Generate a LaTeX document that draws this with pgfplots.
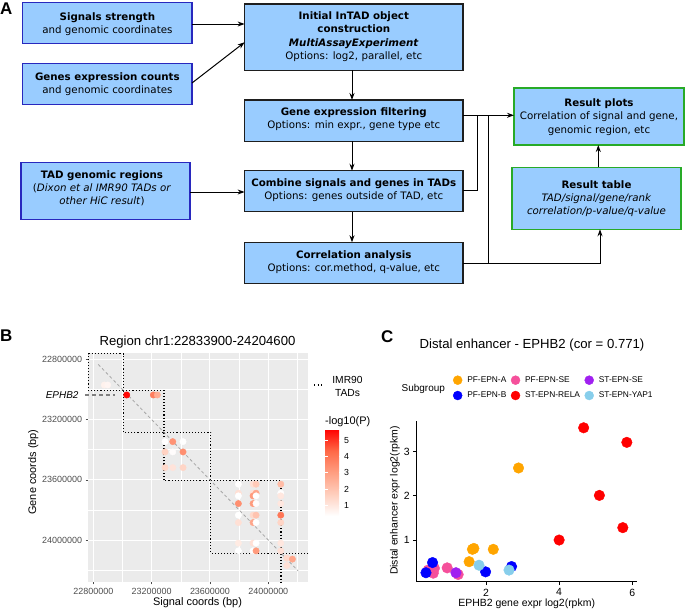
\documentclass[border=0pt]{standalone}
\usepackage{pgfplots}
\pgfplotsset{compat=1.18}
\usepackage{fontspec}
\setmainfont{Liberation Sans}
\newfontfamily\dejavu{DejaVu Sans}
\usetikzlibrary{arrows.meta}
\definecolor{boxfill}{RGB}{153,204,255}
\definecolor{boxblue}{RGB}{40,40,190}
\definecolor{boxgreen}{RGB}{40,170,40}
\definecolor{boxdark}{RGB}{30,30,30}
\definecolor{panelgray}{RGB}{235,235,235}
\definecolor{ticklab}{RGB}{77,77,77}
\definecolor{cOrange}{RGB}{255,165,0}
\definecolor{cPink}{RGB}{245,80,155}
\definecolor{cPurple}{RGB}{160,32,240}
\definecolor{cBlue}{RGB}{0,0,255}
\definecolor{cRed}{RGB}{255,0,0}
\definecolor{cSky}{RGB}{135,206,235}
\begin{document}
\begin{tikzpicture}
\useasboundingbox (0bp,0bp) rectangle (685bp,-611bp);
\begin{scope}[x=1bp,y=-1bp,font=\dejavu\fontsize{10.3}{13.3}\selectfont]
\tikzset{bx/.style={fill=boxfill, line width=1.3bp},
 ar/.style={-{Stealth[length=7bp,width=5bp]}, line width=1bp},
 ln/.style={line width=1bp}}
\node[font=\bfseries\fontsize{17}{17}\selectfont, anchor=base west, inner sep=0] at (0,14) {A};
\draw[bx,draw=boxblue] (22.7,2.7) rectangle (192,43.7);
\node[align=center] at (107.4,24) {\textbf{Signals strength}\\and genomic coordinates};
\draw[bx,draw=boxblue] (22.7,63.3) rectangle (192,104.7);
\node[align=center] at (107.4,84.5) {\textbf{Genes expression counts}\\and genomic coordinates};
\draw[bx,draw=boxdark] (244.6,4) rectangle (463,70.3);
\node[align=center] at (353.8,36.7) {\textbf{Initial InTAD object}\\\textbf{construction}\\\textbf{\textit{MultiAssayExperiment}}\\Options: log2, parallel, etc};
\draw[bx,draw=boxdark] (244.6,100) rectangle (463,141.3);
\node[align=center] at (353.8,119.5) {\textbf{Gene expression filtering}\\Options: min expr., gene type etc};
\draw[bx,draw=boxgreen] (514,88) rectangle (684,145);
\node[align=center] at (599,117) {\textbf{Result plots}\\Correlation of signal and gene,\\genomic region, etc};
\draw[bx,draw=boxblue] (21,162.7) rectangle (190,219.3);
\node[align=center] at (102,188.5) {\textbf{TAD genomic regions}\\(\textit{Dixon et al IMR90 TADs or}\\\textit{other HiC result})};
\draw[bx,draw=boxdark] (244.6,170.7) rectangle (463,211.7);
\node[align=center] at (353.8,190.5) {\textbf{Combine signals and genes in TADs}\\Options: genes outside of TAD, etc};
\draw[bx,draw=boxgreen] (512,167.3) rectangle (681,229.3);
\node[align=center] at (596.5,198.5) {\textbf{Result table}\\\textit{TAD/signal/gene/rank}\\\textit{correlation/p-value/q-value}};
\draw[bx,draw=boxdark] (244.6,242.3) rectangle (463,283.7);
\node[align=center] at (353.8,262) {\textbf{Correlation analysis}\\Options: cor.method, q-value, etc};
\draw[ar] (192,24) -- (244.6,24);
\draw[ar] (192,83) -- (244.6,42.3);
\draw[ar] (352,70.3) -- (352,100);
\draw[ar] (352,141.3) -- (352,170.7);
\draw[ar] (352,211.7) -- (352,242.3);
\draw[ar] (190,192) -- (244.6,192);
\draw[ar] (463,115.3) -- (514,115.3);
\draw[ln] (463,190) -- (477.3,190) -- (477.3,115.3);
\draw[ln] (488.5,263.3) -- (488.5,115.3);
\draw[ar] (463,263.3) -- (600,263.3) -- (600,229.3);
\draw[ar] (598.3,167.3) -- (598.3,145);
% panel B texts
\node[font=\bfseries\fontsize{17}{17}\selectfont, anchor=base west, inner sep=0] at (0,341.7) {B};
\node[font=\fontsize{13.2}{15}\selectfont] at (197.5,341.7) {Region chr1:22833900-24204600};
\node[rotate=90, font=\fontsize{11}{13}\selectfont] at (33.3,472) {Gene coords (bp)};
\node[font=\fontsize{11}{13}\selectfont] at (197.5,602.7) {Signal coords (bp)};
\draw[line width=1.2bp, dash pattern=on 1.2bp off 2.3bp] (314,385) -- (324,385);
\node[align=center, font=\fontsize{10.3}{13}\selectfont] at (347.5,386.5) {IMR90\\TADs};
\node[font=\fontsize{11}{13}\selectfont, anchor=base west, inner sep=0] at (325,424) {-log10(P)};
% panel C texts
\node[font=\bfseries\fontsize{17}{17}\selectfont, anchor=base west, inner sep=0] at (381,342.7) {C};
\node[font=\fontsize{13.2}{15}\selectfont] at (532,345) {Distal enhancer - EPHB2 (cor = 0.771)};
\node[font=\fontsize{10}{12}\selectfont] at (423.3,389.3) {Subgroup};
\node[rotate=90, font=\fontsize{10.5}{13}\selectfont] at (395,500.5) {Distal enhancer expr log2(rpkm)};
\node[font=\fontsize{10.5}{13}\selectfont] at (526.7,604) {EPHB2 gene expr log2(rpkm)};
\end{scope}

% ---------------- Panel B ----------------
\begin{axis}[
  at={(88.3bp,-353.3bp)}, anchor=north west,
  scale only axis, width=220bp, height=228.4bp,
  xmin=22765700, xmax=24274400, ymin=22760200, ymax=24276600,
  y dir=reverse,
  scaled ticks=false,
  axis background/.style={fill=panelgray},
  axis line style={draw=none},
  xtick={22800000,23200000,23600000,24000000},
  xticklabels={22800000,23200000,23600000,24000000},
  ytick={22800000,23200000,23600000,24000000},
  yticklabels={22800000,23200000,23600000,24000000},
  minor xtick={23000000,23400000,23800000,24200000},
  minor ytick={23000000,23400000,23800000,24200000},
  grid=both,
  major grid style={white, line width=1.07bp},
  minor grid style={white, line width=0.53bp},
  tick align=outside, major tick length=2.75bp, minor tick length=0pt,
  tick style={ticklab, line width=0.5bp},
  tick pos=left,
  ticklabel style={font=\fontsize{9}{10}\selectfont, text=ticklab},
  clip=false,
  colormap={wr}{rgb255=(255,255,255) rgb255=(255,207,190) rgb255=(255,158,129) rgb255=(255,104,70) rgb255=(255,0,0)},
  point meta min=0.33, point meta max=5.7,
  colorbar,
  colorbar shift/.style={},
  colorbar style={
    at={(325bp,-429bp)}, anchor=north west,
    width=17bp, height=87bp, scale only axis,
    axis line style={draw=none},
    ytick={1,2,3,4,5}, yticklabels={1,2,3,4,5},
    ytick pos=both, yticklabel pos=right,
    tick align=inside, major tick length=3.4bp,
    ytick style={draw=white, line width=0.5bp},
    yticklabel style={font=\fontsize{8.8}{10}\selectfont, text=black, inner sep=2bp},
  },
]
% TADs
\addplot[black, line width=1.1bp, dash pattern=on 1.1bp off 2bp] coordinates {(22767000,22762000)(23005000,22762000)(23005000,23005000)(22767000,23005000)(22767000,22762000)};
\addplot[black, line width=1.1bp, dash pattern=on 1.1bp off 2bp] coordinates {(23005000,23005000)(23285000,23005000)(23285000,23285000)(23005000,23285000)(23005000,23005000)};
\addplot[black, line width=1.1bp, dash pattern=on 1.1bp off 2bp] coordinates {(23285000,23285000)(23606000,23285000)(23606000,23606000)(23285000,23606000)(23285000,23285000)};
\addplot[black, line width=1.1bp, dash pattern=on 1.1bp off 2bp] coordinates {(23606000,23606000)(24087000,23606000)(24087000,24087000)(23606000,24087000)(23606000,23606000)};
\addplot[black, line width=1.1bp, dash pattern=on 1.1bp off 2bp] coordinates {(24274400,24087000)(24087000,24087000)(24087000,24276600)};
% diagonal
\addplot[gray!70, line width=0.8bp, dash pattern=on 3bp off 2.5bp] coordinates {(22833900,22833900)(24204600,24204600)};
% EPHB2 marker line
\addplot[gray, line width=1.3bp, dash pattern=on 4bp off 3bp] coordinates {(22743000,23037000)(22950000,23037000)};
\node[anchor=east, font=\itshape\fontsize{10}{12}\selectfont, xshift=-3bp] at (axis cs:22743000,23037000) {EPHB2};
\addplot[scatter, only marks, mark=*, mark size=3.2bp, scatter src=explicit,
  scatter/use mapped color={draw=mapped color, fill=mapped color}]
 table[meta=v] {
x y v
22875500 22970500 0.7
22898800 22970500 0.6
23029200 23036800 5.6
23211700 23036800 3.8
23239100 23036800 2.6
23291900 23346600 0.35
23344800 23346600 3.3
23415400 23346600 0.3
23291900 23415000 1.6
23344800 23415000 0.4
23415400 23415000 3.4
23291900 23519000 1.4
23344800 23519000 1.1
23415400 23519000 1.5
23794900 23629200 0.35
23895700 23629200 1.2
23916300 23629200 1.8
24085800 23629200 2.2
23794900 23688900 1.2
23895700 23688900 1.2
23916300 23688900 2.8
24085800 23688900 0.35
23794900 23706800 0.3
23895700 23706800 3.1
23916300 23706800 0.3
24085800 23706800 1.0
23794900 23757900 3.4
23895700 23757900 3.1
23916300 23757900 0.4
24085800 23757900 1.0
23794900 23834800 0.3
23895700 23834800 1.4
23916300 23834800 2.0
24085800 23834800 4.0
23794900 23883900 1.2
23895700 23883900 2.8
23916300 23883900 0.3
24085800 23883900 1.5
23794900 24020600 0.9
23895700 24020600 1.2
23916300 24020600 0.3
24085800 24020600 1.0
23794900 24071700 0.3
23895700 24071700 0.3
23916300 24071700 3.1
24085800 24071700 1.2
24127000 24120100 1.4
24165500 24126700 2.8
24127000 24169200 1.2
};
\end{axis}

% ---------------- Panel C ----------------
\begin{axis}[
  at={(416.7bp,-420.7bp)}, anchor=north west,
  scale only axis, width=220bp, height=161bp,
  xmin=0.107, xmax=6.12, ymin=0.057, ymax=3.70,
  axis x line*=bottom, axis y line*=left,
  axis line style={line width=0.8bp, black, -},
  tick align=outside, major tick length=3.5bp, tick style={black, line width=0.8bp},
  xtick={2,4,6}, xticklabels={2,4,6}, ytick={1,2,3}, yticklabels={1,2,3},
  ticklabel style={font=\fontsize{10.5}{12}\selectfont},
  clip=false,
  legend columns=3, legend cell align=left,
  legend image code/.code={\fill[#1] (0bp,0bp) circle[radius=4.5bp];},
  legend style={draw=none, fill=none, at={(0.164,1.285)}, anchor=north west,
    inner sep=0pt, font=\fontsize{8.4}{10}\selectfont, nodes={inner sep=1.5bp},
    row sep=5bp,
    /tikz/every odd column/.append style={column sep=3.4bp},
    /tikz/every even column/.append style={column sep=3bp}},
]
\addplot[only marks, mark=*, mark size=5.3bp, color=cOrange] coordinates {(2.89,2.63)(1.63,0.79)(1.67,0.81)(2.20,0.79)(1.54,0.51)};
\addlegendentry{PF-EPN-A}
\addplot[only marks, mark=*, mark size=5.3bp, color=cPink] coordinates {(0.42,0.32)(0.59,0.36)(0.56,0.25)(0.94,0.37)(1.24,0.22)};
\addlegendentry{PF-EPN-SE}
\addplot[only marks, mark=*, mark size=5.3bp, color=cPurple] coordinates {(1.18,0.26)};
\addlegendentry{ST-EPN-SE}
\addplot[only marks, mark=*, mark size=5.3bp, color=cBlue] coordinates {(0.36,0.26)(0.54,0.49)(1.99,0.28)(2.70,0.40)};
\addlegendentry{PF-EPN-B}
\addplot[only marks, mark=*, mark size=5.3bp, color=cRed] coordinates {(4.0,1.0)(4.67,3.54)(5.85,3.21)(5.10,2.01)(5.74,1.28)};
\addlegendentry{ST-EPN-RELA}
\addplot[only marks, mark=*, mark size=5.3bp, color=cSky] coordinates {(1.81,0.43)(2.63,0.32)};
\addlegendentry{ST-EPN-YAP1}
\end{axis}
\end{tikzpicture}
\end{document}
